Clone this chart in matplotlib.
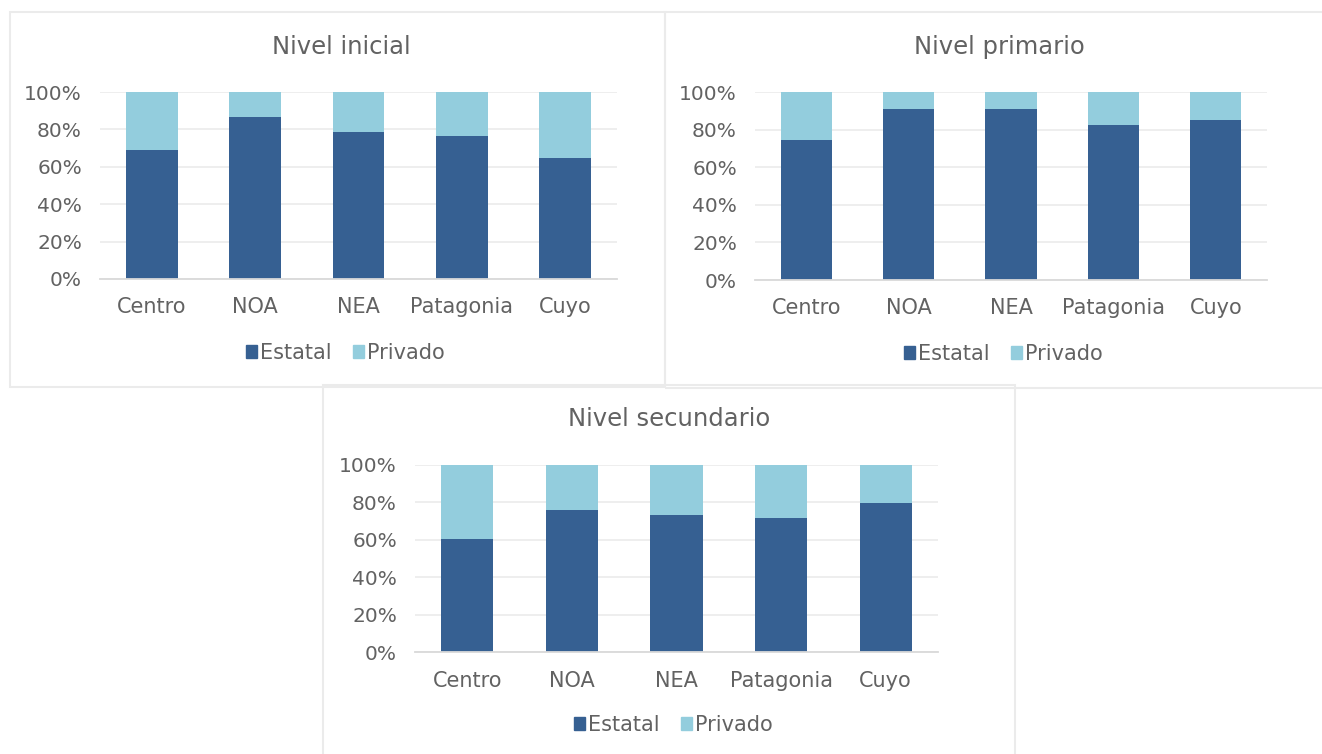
import matplotlib
matplotlib.use("Agg")
import matplotlib.pyplot as plt
from matplotlib.patches import Rectangle, Patch

# Participación de la matrícula por sector de gestión y región
regiones = ["Centro", "NOA", "NEA", "Patagonia", "Cuyo"]

inicial_estatal = [69.2, 86.8, 78.8, 76.6, 64.5]
inicial_privado = [30.8, 13.2, 21.2, 23.4, 35.5]

primario_estatal = [74.7, 91.0, 91.0, 82.7, 85.3]
primario_privado = [25.3, 9.0, 9.0, 17.3, 14.7]

secundario_estatal = [60.6, 75.7, 73.5, 71.7, 79.6]
secundario_privado = [39.4, 24.3, 26.5, 28.3, 20.4]

titulos = ["Nivel inicial", "Nivel primario", "Nivel secundario"]
series = ["Estatal", "Privado"]
y_ticks = [0, 20, 40, 60, 80, 100]
y_labels = ["0%", "20%", "40%", "60%", "80%", "100%"]

COLOR_ESTATAL = "#366092"
COLOR_PRIVADO = "#93CDDD"
TEXT = "#626262"
GRID = "#EBEBEB"
AXLINE = "#D9D9D9"
BORDER = "#EBEBEB"

W, H = 1322, 754
plt.rcParams["font.family"] = ["DejaVu Sans"]
fig = plt.figure(figsize=(W / 100, H / 100), dpi=100)
fig.patch.set_facecolor("white")


def axes_px(x0, y0, x1, y1):
    return fig.add_axes([x0 / W, 1 - y1 / H, (x1 - x0) / W, (y1 - y0) / H])


def border_px(x0, y0, x1, y1):
    fig.patches.append(Rectangle((x0 / W, 1 - y1 / H), (x1 - x0) / W, (y1 - y0) / H,
                                 transform=fig.transFigure, fill=False,
                                 edgecolor=BORDER, linewidth=1.5, zorder=0))


def panel(box, plot, title_xy, legend_xy, xpad, estatal, privado, title):
    border_px(*box)
    ax = axes_px(*plot)
    xs = list(range(len(regiones)))
    ax.bar(xs, estatal, width=0.5, color=COLOR_ESTATAL, zorder=3)
    ax.bar(xs, privado, width=0.5, bottom=estatal, color=COLOR_PRIVADO, zorder=3)
    ax.set_xlim(-0.5, len(regiones) - 0.5)
    ax.set_ylim(0, 100)
    ax.set_yticks(y_ticks)
    ax.set_yticklabels(y_labels)
    ax.set_xticks(xs)
    ax.set_xticklabels(regiones)
    ax.tick_params(axis="y", length=0, pad=13, labelsize=14.5, labelcolor=TEXT)
    ax.tick_params(axis="x", length=0, pad=xpad, labelsize=15, labelcolor=TEXT)
    ax.yaxis.grid(True, color=GRID, linewidth=1.2, zorder=0)
    ax.set_axisbelow(True)
    for s in ("top", "right", "left"):
        ax.spines[s].set_visible(False)
    ax.spines["bottom"].set_color(AXLINE)
    ax.spines["bottom"].set_linewidth(1.3)
    ax.spines["bottom"].set_zorder(4)
    tx, ty = title_xy
    fig.text(tx / W, 1 - ty / H, title, ha="center", va="center",
             fontsize=17.5, color=TEXT)
    lx, ly = legend_xy
    handles = [Patch(color=COLOR_ESTATAL), Patch(color=COLOR_PRIVADO)]
    fig.legend(handles, series, loc="center", ncol=2,
               bbox_to_anchor=(lx / W, 1 - ly / H),
               bbox_transform=fig.transFigure, frameon=False,
               fontsize=15, labelcolor=TEXT, handlelength=0.55, handleheight=0.55,
               handletextpad=0.15, columnspacing=1.0, borderpad=0)
    return ax


panel((10, 12, 665, 387), (100, 92, 617, 279), (341.5, 47), (345.5, 353), 13,
      inicial_estatal, inicial_privado, titulos[0])
panel((665, 12, 1334, 388), (755, 92, 1267, 280), (999, 47), (1003.5, 354), 13,
      primario_estatal, primario_privado, titulos[1])
panel((323, 385, 1015, 760), (415, 465, 938, 652), (669, 419), (673.5, 725), 14,
      secundario_estatal, secundario_privado, titulos[2])

fig.savefig("out.png", dpi=100, facecolor="white")
